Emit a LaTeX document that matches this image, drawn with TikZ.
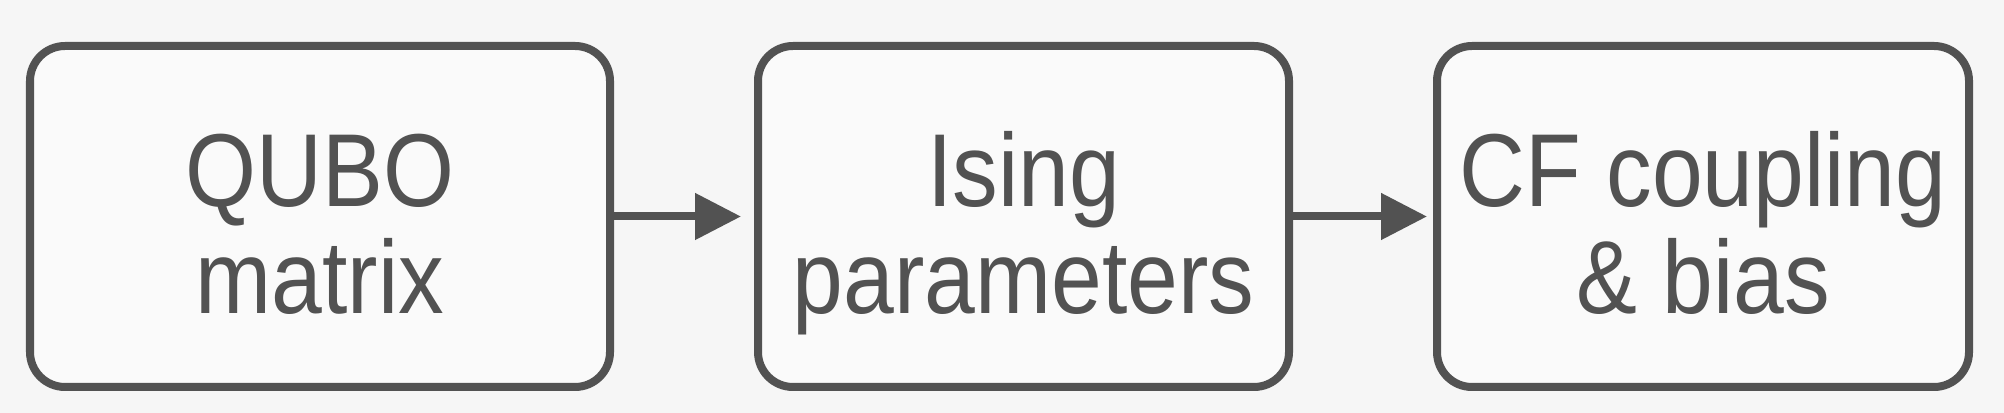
\documentclass[tikz,border=0pt]{standalone}
\usepackage{fontspec}
\setmainfont{Liberation Sans}[FakeStretch=0.88]
\usetikzlibrary{arrows.meta}
\definecolor{ink}{RGB}{82,82,82}
\definecolor{paper}{RGB}{246,246,246}
\definecolor{card}{RGB}{250,250,250}
\begin{document}
\begin{tikzpicture}%
	[x=1cm, y=1cm,
	stage/.style={draw=ink, fill=card, line width=0.08cm, rounded corners=0.35cm,
		text=ink, align=center, inner sep=0pt, minimum height=3.41cm,
		font=\fontsize{29.5pt}{30.7pt}\selectfont, text height=1.95cm, text depth=0pt},
	flow/.style={draw=ink, line width=0.08cm, -{Triangle[length=0.46cm, width=0.45cm]}}]
%
\fill[paper] (0,0) rectangle (20.04,4.13);
\useasboundingbox (0,0) rectangle (20.04,4.13);
%%
%% Drawing the stages
%%
\node[stage, minimum width=5.80cm] (qubo) at (3.20, 1.965) {QUBO\\matrix};
\node[stage, minimum width=5.31cm] (ising) at (10.235, 1.965) {Ising\\parameters};
\node[stage, minimum width=5.32cm] (cf) at (17.03, 1.965) {CF coupling\\\& bias};
%%
%% Drawing the arrows
%%
\draw[flow, shorten >=0.13cm] (qubo.east) -- (ising.west);
\draw[flow, shorten >=0.06cm] (ising.east) -- (cf.west);
\end{tikzpicture}
\end{document}
